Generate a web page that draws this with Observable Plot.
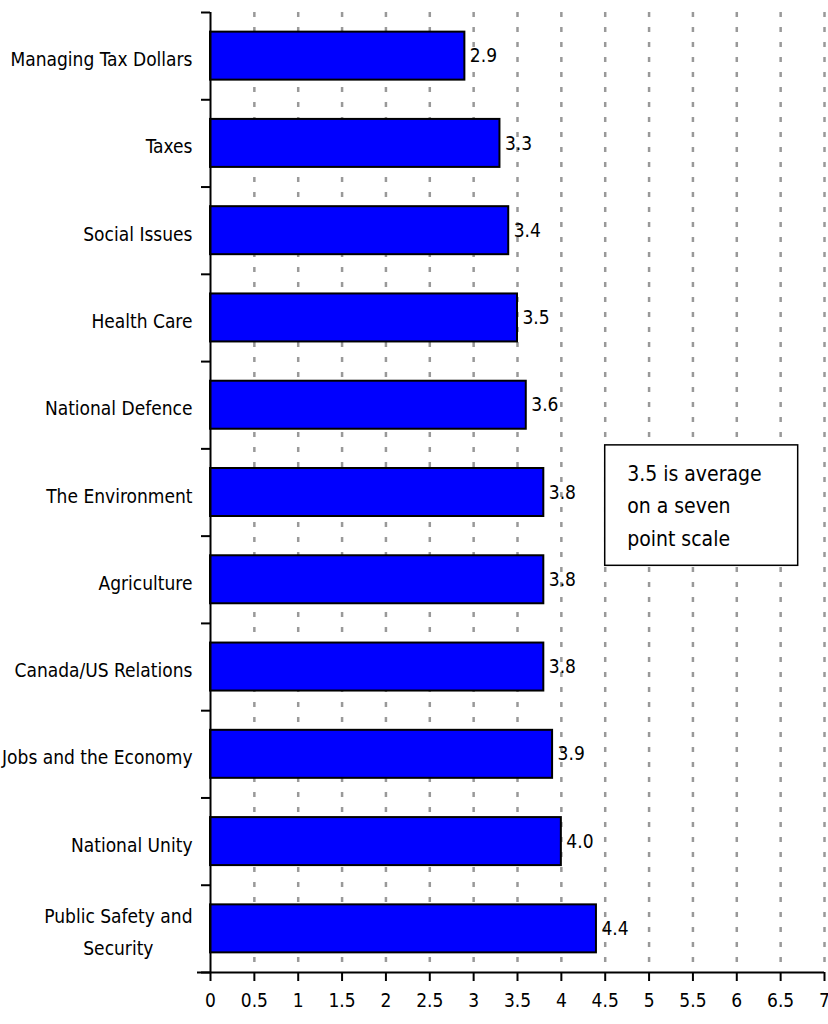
<!DOCTYPE html>
<html>
<head>
<meta charset="utf-8">
<script src="https://cdn.jsdelivr.net/npm/d3@7"></script>
<script src="https://cdn.jsdelivr.net/npm/@observablehq/plot@0.6"></script>
<style>
  html, body { margin: 0; padding: 0; background: #fff; }
  #chart svg { display: block; }
</style>
</head>
<body>
<div id="chart"></div>
<script>
const categories = [
  "Managing Tax Dollars",
  "Taxes",
  "Social Issues",
  "Health Care",
  "National Defence",
  "The Environment",
  "Agriculture",
  "Canada/US Relations",
  "Jobs and the Economy",
  "National Unity",
  "Public Safety and\nSecurity"
];
const values = [2.9, 3.3, 3.4, 3.5, 3.6, 3.8, 3.8, 3.8, 3.9, 4.0, 4.4];
const xTicks = d3.range(0, 7.01, 0.5);
const gridTicks = d3.range(0.5, 7.01, 0.5);
const noteText = ["3.5 is average\non a seven\npoint scale"];
const noteBox = [{x1: 4.5, x2: 6.7, y1: 4.96, y2: 6.34, tx: 4.75, ty: 5.62}];

const data = categories.map((c, i) => ({cat: c, value: values[i], i}));
const boundaries = d3.range(0, categories.length + 1);
const FONT = '"DejaVu Sans Condensed", "Liberation Sans Narrow", sans-serif';

const plot = Plot.plot({
  width: 828,
  height: 1024,
  marginLeft: 210,
  marginRight: 4,
  marginTop: 12,
  marginBottom: 52,
  style: {fontFamily: FONT, fontSize: "19px", color: "#000", background: "#fff"},
  x: {domain: [0, 7], label: null},
  y: {domain: [categories.length, 0], axis: null},
  marks: [
    Plot.ruleX(gridTicks, {x: d => d, y1: 0, y2: categories.length, stroke: "#999", strokeWidth: 2.5, strokeDasharray: "5,10"}),
    Plot.rectX(data, {x1: 0, x2: "value", y1: d => d.i + 0.225, y2: d => d.i + 0.775, fill: "#0000ff", stroke: "#000", strokeWidth: 2}),
    Plot.text(data, {x: "value", y: d => d.i + 0.5, text: d => d.value.toFixed(1), textAnchor: "start", dx: 5, fontSize: 19, fill: "#000"}),
    Plot.text(data, {x: 0, y: d => d.i + 0.5, text: "cat", textAnchor: "end", dx: -18, fontSize: 19, lineHeight: 1.65, fill: "#000", className: "catlabel"}),
    Plot.rect(noteBox, {x1: "x1", x2: "x2", y1: "y1", y2: "y2", fill: "#fff", stroke: "#000", strokeWidth: 1.5}),
    Plot.text(noteBox, {x: "tx", y: "ty", text: () => noteText[0], textAnchor: "start", fontSize: 21, lineHeight: 1.55, fill: "#000"}),
    Plot.ruleX([0], {y1: 0, y2: categories.length, stroke: "#000", strokeWidth: 2}),
    Plot.ruleY(boundaries, {y: d => d, x1: 0, x2: 0, insetLeft: -9, stroke: "#000", strokeWidth: 2}),
    Plot.axisX({ticks: xTicks, tickSize: 9, tickPadding: 12, strokeWidth: 2, fontSize: 19, tickFormat: d => String(d)}),
    Plot.ruleY([categories.length], {y: d => d, x1: 0, x2: 7, insetLeft: -13, stroke: "#000", strokeWidth: 2})
  ]
});
document.getElementById("chart").appendChild(plot);

// center multi-line category labels, like the reference
plot.querySelectorAll("g.catlabel text").forEach(t => {
  const spans = t.querySelectorAll("tspan");
  if (spans.length > 1) {
    let w = 0;
    spans.forEach(s => { w = Math.max(w, s.getComputedTextLength()); });
    t.setAttribute("text-anchor", "middle");
    spans.forEach(s => s.setAttribute("x", -w / 2));
  }
});
</script>
</body>
</html>
